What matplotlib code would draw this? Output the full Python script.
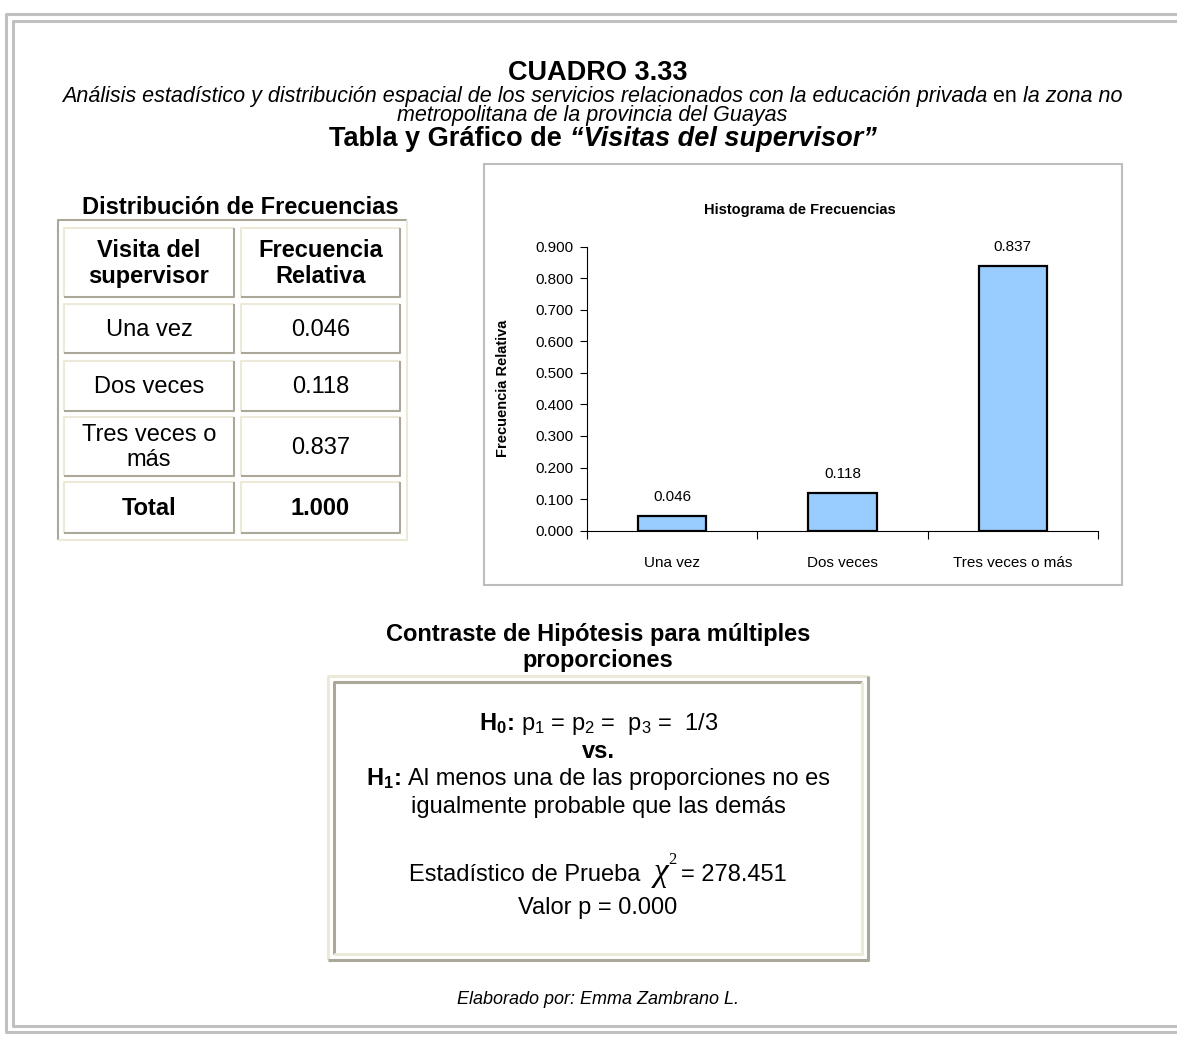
import matplotlib
matplotlib.use('Agg')
import matplotlib.pyplot as plt
from matplotlib.patches import Rectangle
import numpy as np

plt.rcParams['font.family'] = ['Liberation Sans', 'DejaVu Sans']
plt.rcParams['mathtext.fontset'] = 'custom'
plt.rcParams['mathtext.rm'] = 'Liberation Sans'
plt.rcParams['mathtext.it'] = 'Liberation Sans:italic'
plt.rcParams['mathtext.bf'] = 'Liberation Sans:bold'

# data
categorias = ['Una vez', 'Dos veces', 'Tres veces o más']
filas_tabla = ['Una vez', 'Dos veces', 'Tres veces o\nmás']
frec_rel = [0.046, 0.118, 0.837]
total = 1.000
yticks = [0.0, 0.1, 0.2, 0.3, 0.4, 0.5, 0.6, 0.7, 0.8, 0.9]
chi2 = 278.451
valor_p = 0.000

W, H = 1177, 1039
fig = plt.figure(figsize=(W / 100, H / 100), dpi=100)
bg = fig.add_axes([0, 0, 1, 1])
bg.set_xlim(0, W)
bg.set_ylim(H, 0)
bg.axis('off')
r = fig.canvas.get_renderer()

LIGHT = '#ece9d8'
DARK = '#aca899'


def tw(s, **kw):
    # width of a string, spaces included
    t = bg.text(0, 0, '|' + s + '|', **kw)
    w1 = t.get_window_extent(r).width
    t.remove()
    t = bg.text(0, 0, '||', **kw)
    w2 = t.get_window_extent(r).width
    t.remove()
    return w1 - w2


def rich(cx, y, parts, size):
    ws = []
    for s, kw in parts:
        k = dict(kw)
        k.pop('dy', None)
        k.setdefault('fontsize', size)
        ws.append(tw(s, **k))
    x = cx - sum(ws) / 2
    for (s, kw), w in zip(parts, ws):
        k = dict(kw)
        dy = k.pop('dy', 0)
        k.setdefault('fontsize', size)
        bg.text(x, y + dy, s, ha='left', va='baseline', **k)
        x += w


def bevel(x0, y0, x1, y1, tl, br, lw):
    bg.plot([x0, x0, x1], [y1, y0, y0], color=tl, lw=lw, solid_capstyle='butt')
    bg.plot([x0, x1, x1], [y1, y1, y0], color=br, lw=lw, solid_capstyle='butt')


# outer page frame
for x0, y0, y1 in [(5.5, 13.5, 1032), (12.5, 20.5, 1026)]:
    bg.plot([1177, x0, x0, 1177], [y0, y0, y1, y1], color='#c0c0c0', lw=2.2)

# headings
bg.text(598, 80, 'CUADRO 3.33', ha='center', va='baseline', fontsize=19.5, fontweight='bold')
rich(592, 102, [('Análisis estadístico y distribución espacial de los servicios relacionados con la educación privada ',
                 {'style': 'italic'}),
                ('en ', {}),
                ('la zona no', {'style': 'italic'})], 15.5)
bg.text(592, 121, 'metropolitana de la provincia del Guayas', ha='center', va='baseline',
        fontsize=15.5, style='italic')
rich(603, 146, [('Tabla y Gráfico de ', {'fontweight': 'bold'}),
                ('“Visitas del supervisor”', {'fontweight': 'bold', 'style': 'italic'})], 19.5)

# frequency table
bg.text(240, 207, 'Distribución de Frecuencias', ha='center', va='center', fontsize=17, fontweight='bold')
bevel(58, 220, 407, 540, DARK, LIGHT, 1.5)
cols = [(64, 234), (241, 400)]
rows = [(228, 297), (304, 353), (361, 411), (417, 476), (482, 533)]
celdas = [('Visita del\nsupervisor', 'Frecuencia\nRelativa', 'bold')]
for f, v in zip(filas_tabla, frec_rel):
    celdas.append((f, f'{v:.3f}', 'normal'))
celdas.append(('Total', f'{total:.3f}', 'bold'))
for (y0, y1), fila in zip(rows, celdas):
    for (x0, x1), txt in zip(cols, fila[:2]):
        bevel(x0, y0, x1, y1, LIGHT, DARK, 1.5)
        bg.text((x0 + x1) / 2, (y0 + y1) / 2 + 1, txt, ha='center', va='center', fontsize=17,
                fontweight=fila[2], linespacing=1.15, multialignment='center')

# chart box
bg.add_patch(Rectangle((484, 164), 638, 421, fill=False, edgecolor='#bdbdbd', lw=1.5))
bg.text(800, 210, 'Histograma de Frecuencias', ha='center', va='center', fontsize=10.5, fontweight='bold')

ax = fig.add_axes([587 / W, 1 - 530.7 / H, (1098 - 587) / W, (530.7 - 246.5) / H])
ax.set_facecolor('none')
x = np.arange(len(categorias))
ax.bar(x, frec_rel, width=0.4, color='#99ccff', edgecolor='black', linewidth=1.6, zorder=3)
for xi, v in zip(x, frec_rel):
    ax.annotate(f'{v:.3f}', (xi, v), xytext=(0, 14), textcoords='offset points',
                ha='center', va='center', fontsize=11)
ax.set_xlim(-0.5, len(categorias) - 0.5)
ax.set_ylim(0, 0.9)
ax.set_yticks(yticks)
ax.set_yticklabels([f'{v:.3f}' for v in yticks])
ax.set_xticks(np.arange(len(categorias) + 1) - 0.5)
ax.set_xticklabels([])
ax.set_xticks(x, minor=True)
ax.set_xticklabels(categorias, minor=True)
ax.tick_params(axis='x', which='major', direction='out', length=6, width=0.8)
ax.tick_params(axis='x', which='minor', length=0, pad=18, labelsize=11)
ax.tick_params(axis='y', direction='out', length=5, width=0.8, labelsize=11, pad=5)
for s in ['top', 'right']:
    ax.spines[s].set_visible(False)
for s in ['left', 'bottom']:
    ax.spines[s].set_linewidth(0.8)
ax.set_ylabel('Frecuencia Relativa', fontsize=10.5, fontweight='bold')
ax.yaxis.set_label_coords(-0.15, 0.5)

# hypothesis test
bg.text(598, 634, 'Contraste de Hipótesis para múltiples', ha='center', va='center', fontsize=17, fontweight='bold')
bg.text(598, 661, 'proporciones', ha='center', va='center', fontsize=17, fontweight='bold')
bevel(328, 676, 868, 960, LIGHT, DARK, 2.2)
bevel(334, 682, 862, 954, DARK, LIGHT, 2.2)

rich(598, 730, [(r'H$_\mathbf{0}$: ', {'fontweight': 'bold'}),
                (r'p$_1$ = p$_2$ =  p$_3$ =  1/3', {})], 17)
bg.text(598, 758, 'vs.', ha='center', va='baseline', fontsize=17, fontweight='bold')
rich(598, 785, [(r'H$_\mathbf{1}$: ', {'fontweight': 'bold'}),
                ('Al menos una de las proporciones no es', {})], 17)
bg.text(598, 813, 'igualmente probable que las demás', ha='center', va='baseline', fontsize=17)
rich(598, 881, [('Estadístico de Prueba  ', {}),
                ('χ', {'family': 'Liberation Serif', 'style': 'italic', 'fontsize': 24}),
                ('2 ', {'family': 'Liberation Serif', 'fontsize': 12, 'dy': -17}),
                (f'= {chi2:.3f}', {})], 17)
bg.text(598, 914, f'Valor p = {valor_p:.3f}', ha='center', va='baseline', fontsize=17)

bg.text(598, 1000, 'Elaborado por: Emma Zambrano L.', ha='center', va='center', fontsize=13, style='italic')

fig.savefig('out.png', dpi=100)
